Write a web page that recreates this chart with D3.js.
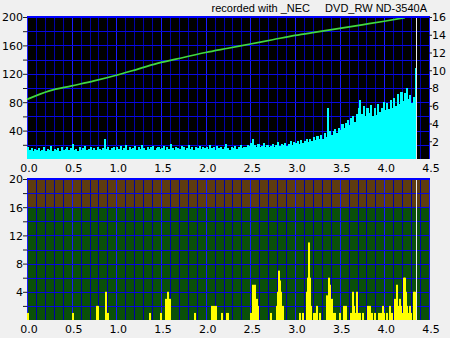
<!DOCTYPE html>
<html>
<head>
<meta charset="utf-8">
<script src="https://cdn.jsdelivr.net/npm/d3@7"></script>
<style>
  html, body { margin: 0; padding: 0; background: #f0f0f0; }
  svg { display: block; }
  text { fill: #000; }
</style>
</head>
<body>
<div id="chart"></div>
<script>
// ---- data ----
const titleLeft = 'recorded with _NEC';
const titleRight = 'DVD_RW ND-3540A';

const xTicks = [0, 0.5, 1.0, 1.5, 2.0, 2.5, 3.0, 3.5, 4.0, 4.5];
const rightTicksTop = [2, 4, 6, 8, 10, 12, 14, 16];
const discEnd = 4.35;

// PI errors, one value every 0.02 from 0.00 (right axis units)
const piStep = 0.02;
const piValues = [
  1.3,1.0,1.2,0.9,1.1,1.0,1.2,0.9,1.0,1.4,0.9,1.1,1.0,1.5,0.9,1.1,1.0,1.2,0.9,1.3,1.0,1.1,1.4,1.0,1.2,
  1.7,1.0,1.1,0.9,1.3,1.0,1.2,1.5,1.0,1.1,1.3,1.0,1.2,1.0,1.4,1.1,1.0,1.2,2.3,1.1,1.3,1.0,1.2,1.4,1.0,
  1.3,1.1,1.5,1.0,1.2,1.6,1.0,1.3,1.1,1.2,1.5,1.0,1.3,1.1,1.6,1.2,1.0,1.4,1.1,1.3,1.5,1.0,1.2,1.4,1.1,
  1.2,1.5,1.0,1.3,1.1,1.7,1.2,1.0,1.4,1.2,1.1,1.5,1.3,1.0,1.2,1.6,1.1,1.3,1.0,1.4,1.2,1.5,1.1,1.3,1.2,
  1.4,1.1,1.6,1.2,1.3,1.0,1.5,1.2,1.4,1.1,1.3,1.7,1.2,1.0,1.4,1.2,1.5,1.1,1.3,1.6,1.2,1.4,1.3,1.6,1.5,
  1.8,2.3,1.6,1.4,1.7,1.3,1.5,1.8,1.4,1.6,1.3,1.5,1.7,1.4,1.6,1.9,1.5,1.7,1.6,1.8,1.5,1.7,2.0,1.6,1.9,
  1.8,2.0,1.7,2.1,1.8,2.0,2.3,1.9,2.3,2.0,2.5,2.1,2.6,2.2,2.7,2.3,2.9,2.5,5.8,3.2,2.7,3.1,3.4,2.9,3.5,
  3.3,3.9,3.5,4.1,4.4,3.8,4.6,4.8,4.2,5.1,5.7,6.6,5.1,6.0,4.9,5.8,5.2,6.1,4.9,5.7,5.0,6.2,5.3,5.8,6.4,
  5.5,6.3,5.6,6.6,5.8,6.9,6.0,7.3,6.2,7.6,6.5,7.4,8.0,6.8,7.2,6.3,7.0,10.3
];

// read speed (left axis units)
const speedPos = [0.0, 0.25, 0.5, 0.75, 1.0, 1.25, 1.5, 1.75, 2.0, 2.25, 2.5, 2.75, 3.0, 3.25, 3.5, 3.75, 4.0, 4.23];
const speedVal = [84, 96, 103, 110, 118, 127, 136, 143, 150, 156, 162, 168, 174, 179, 184, 189, 194, 199];

// PI failures (bottom chart)
const pifPos = [0.0, 0.5, 0.77, 0.78, 0.87, 0.9, 1.37, 1.49, 1.55, 1.57, 1.59, 1.87,
  2.06, 2.08, 2.10, 2.17, 2.23, 2.24, 2.50, 2.52, 2.54, 2.56, 2.58, 2.72, 2.79, 2.80, 2.81, 2.82, 2.83, 2.85,
  3.04, 3.08, 3.12, 3.13, 3.15, 3.16, 3.17, 3.20, 3.22, 3.24, 3.27, 3.35, 3.37, 3.38, 3.40, 3.42, 3.44,
  3.49, 3.54, 3.56, 3.62, 3.64, 3.65, 3.66, 3.68, 3.70, 3.72, 3.75, 3.81, 3.83, 3.85, 3.88, 3.93, 3.95, 3.97, 3.99,
  4.02, 4.05, 4.08, 4.11, 4.13, 4.14, 4.16, 4.17, 4.19, 4.21, 4.22, 4.23, 4.24, 4.26, 4.28, 4.29, 4.32, 4.33];
const pifVal = [1, 1, 2, 2, 4, 1, 1, 1, 3, 4, 3, 1,
  2, 2, 2, 1, 1, 1, 1, 5, 5, 3, 2, 1, 2, 4, 7, 5.6, 4, 2,
  1, 1, 4, 6, 11, 6, 2, 1, 1, 2, 1, 3.5, 6, 5, 3, 1, 1,
  1, 2, 2, 1, 4, 2, 1, 4, 1, 1, 1, 2, 2, 1, 1, 1, 1, 2, 1,
  1, 2, 1, 3, 5, 2, 3, 2, 1, 6, 6, 4, 2, 1, 2, 1, 4, 4];

// ---- layout ----
const W = 450, H = 338;
const left = 27, right = 429;
const top1 = 17, bot1 = 159;
const top2 = 179, bot2 = 320;

const svg = d3.select('#chart').append('svg')
  .attr('width', W).attr('height', H)
  .style('font-family', '"DejaVu Sans", sans-serif');

const x = d3.scaleLinear().domain([0, 4.5]).range([left, right]);
const yL = d3.scaleLinear().domain([0, 200]).range([bot1, top1]);
const yR = d3.scaleLinear().domain([0, 16]).range([bot1, top1]);
const yB = d3.scaleLinear().domain([0, 20]).range([bot2, top2]);

const minorX = d3.range(0, 46).map(i => i / 10);

// vertical grid inside a plot
function drawVGrid(g, y0, y1) {
  g.selectAll('line.vg').data(minorX).join('line')
    .attr('class', 'vg')
    .attr('x1', d => Math.round(x(d)) + 0.5).attr('x2', d => Math.round(x(d)) + 0.5)
    .attr('y1', y0).attr('y2', y1)
    .attr('stroke', (d, i) => i % 5 === 0 ? '#1818ff' : '#0000a8')
    .attr('stroke-width', 1);
}

function drawHGrid(g, scale, values, x0, x1) {
  g.selectAll('line.hg').data(values).join('line')
    .attr('class', 'hg')
    .attr('x1', x0).attr('x2', x1)
    .attr('y1', d => Math.round(scale(d)) + 0.5).attr('y2', d => Math.round(scale(d)) + 0.5)
    .attr('stroke', '#0808e0').attr('stroke-width', 1);
}

// ---------- top chart ----------
const g1 = svg.append('g');
g1.append('rect').attr('x', left).attr('y', top1)
  .attr('width', right - left).attr('height', bot1 - top1).attr('fill', '#000');

drawVGrid(g1, top1, bot1);
drawHGrid(g1, yL, d3.range(20, 201, 20), left, right);

// PI columns, each one step wide
g1.selectAll('rect.pi').data(piValues).join('rect')
  .attr('class', 'pi')
  .attr('x', (d, i) => x(i * piStep))
  .attr('width', (d, i) => x((i + 1) * piStep) - x(i * piStep) + 0.3)
  .attr('y', d => yR(d))
  .attr('height', d => bot1 - yR(d))
  .attr('fill', '#00ffff')
  .attr('shape-rendering', 'crispEdges');

// speed curve
const speedLine = d3.line()
  .x((d, i) => x(speedPos[i]))
  .y(d => yL(d))
  .curve(d3.curveMonotoneX);
g1.append('path').datum(speedVal)
  .attr('d', speedLine).attr('fill', 'none')
  .attr('stroke', '#40d840').attr('stroke-width', 1.7);

// disc end marker
g1.append('line')
  .attr('x1', Math.round(x(discEnd)) + 0.5).attr('x2', Math.round(x(discEnd)) + 0.5)
  .attr('y1', top1).attr('y2', bot1)
  .attr('stroke', '#e8e8e8').attr('stroke-width', 1);

// top border
g1.append('line').attr('x1', left).attr('x2', right + 1)
  .attr('y1', top1).attr('y2', top1).attr('stroke', '#0000ff').attr('stroke-width', 2);

// left axis
const axL = svg.append('g').attr('transform', `translate(${left},0)`)
  .call(d3.axisLeft(yL).tickValues(d3.range(20, 201, 20)).tickSize(4).tickFormat(d => d % 40 === 0 ? d : ''));
// right axis
const axR = svg.append('g').attr('transform', `translate(${right},0)`)
  .call(d3.axisRight(yR).tickValues(rightTicksTop).tickSize(3));
// bottom x axis (top chart)
const axX1 = svg.append('g').attr('transform', `translate(0,${bot1})`)
  .call(d3.axisBottom(x).tickValues(xTicks).tickSize(0).tickFormat(d3.format('.1f')));

// ---------- bottom chart ----------
const g2 = svg.append('g');
g2.append('rect').attr('x', left).attr('y', yB(16))
  .attr('width', right - left).attr('height', bot2 - yB(16)).attr('fill', '#0a500a');
g2.append('rect').attr('x', left).attr('y', top2)
  .attr('width', right - left).attr('height', yB(16) - top2).attr('fill', '#5e3c10');

drawVGrid(g2, top2, bot2);
drawHGrid(g2, yB, d3.range(2, 21, 2), left, right);

g2.selectAll('rect.pif').data(pifVal).join('rect')
  .attr('class', 'pif')
  .attr('x', (d, i) => Math.round(x(pifPos[i])))
  .attr('y', d => yB(d))
  .attr('width', 2)
  .attr('height', d => bot2 - yB(d))
  .attr('fill', '#ffff00');

g2.append('line')
  .attr('x1', Math.round(x(discEnd)) + 0.5).attr('x2', Math.round(x(discEnd)) + 0.5)
  .attr('y1', top2).attr('y2', bot2)
  .attr('stroke', '#e8e8e8').attr('stroke-width', 1);

g2.append('line').attr('x1', left).attr('x2', right + 1)
  .attr('y1', top2).attr('y2', top2).attr('stroke', '#0000ff').attr('stroke-width', 2);

const axB = svg.append('g').attr('transform', `translate(${left},0)`)
  .call(d3.axisLeft(yB).tickValues(d3.range(2, 21, 2)).tickSize(4).tickFormat(d => d % 4 === 0 ? d : ''));
const axX2 = svg.append('g').attr('transform', `translate(0,${bot2})`)
  .call(d3.axisBottom(x).tickValues(xTicks).tickSize(0).tickFormat(d3.format('.1f')));

// axis styling: no domain lines, small dark ticks, label fonts
[axL, axR, axX1, axB, axX2].forEach(ax => {
  ax.select('.domain').remove();
  ax.selectAll('.tick line').attr('stroke', '#202020');
  ax.selectAll('.tick text').attr('font-size', 11).attr('font-family', '"DejaVu Sans", sans-serif').attr('fill', '#000');
});
axL.selectAll('.tick text').attr('x', -4).attr('dy', '0.36em');
axB.selectAll('.tick text').attr('x', -4).attr('dy', '0.36em');
axR.selectAll('.tick text').attr('x', 3).attr('dy', '0.36em');
axX1.selectAll('.tick text').attr('y', 5).attr('dx', 1.5);
axX2.selectAll('.tick text').attr('y', 5).attr('dx', 1.5);

// title
svg.append('text').attr('x', 310).attr('y', 12).attr('text-anchor', 'end')
  .attr('font-family', '"Liberation Sans", Arial, sans-serif').attr('font-size', 11)
  .text(titleLeft);
svg.append('text').attr('x', 427).attr('y', 12).attr('text-anchor', 'end')
  .attr('font-family', '"Liberation Sans", Arial, sans-serif').attr('font-size', 11)
  .text(titleRight);
</script>
</body>
</html>
